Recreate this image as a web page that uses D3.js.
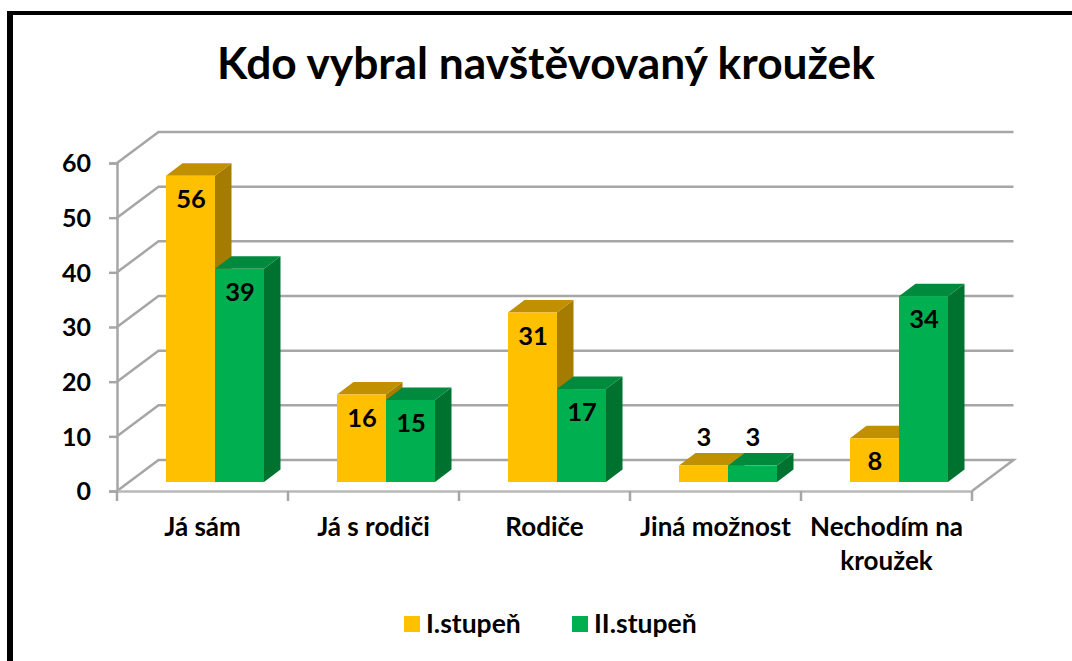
<!DOCTYPE html>
<html>
<head>
<meta charset="utf-8">
<script src="https://cdn.jsdelivr.net/npm/d3@7"></script>
<style>
  html, body { margin: 0; padding: 0; background: #fff; overflow: hidden; }
  text { font-family: Lato, "Open Sans", sans-serif; font-weight: 700; fill: #000; }
</style>
</head>
<body>
<div id="chart"></div>
<script>
const categories = ['Já sám', 'Já s rodiči', 'Rodiče', 'Jiná možnost', 'Nechodím na\nkroužek'];
const seriesNames = ['I.stupeň', 'II.stupeň'];
const stupen1 = [56, 16, 31, 3, 8];
const stupen2 = [39, 15, 17, 3, 34];
const yTicks = [0, 10, 20, 30, 40, 50, 60];

const width = 1072;
const height = 661;
const colors = [
  { front: '#ffc000', top: '#c09000', side: '#a67c00' },
  { front: '#00b050', top: '#008a3e', side: '#00722f' },
];
const gridColor = '#a6a6a6';

// offsets of the fake 3d
const wall = { dx: 41.5, dy: -31 };
const depth = { dx: 16.5, dy: -12.5 };
const baseLift = 9;

const xScale = d3.scaleBand().domain(categories).range([117, 972]);
const yScale = d3.scaleLinear().domain([0, 60]).range([491, 163]);
const barWidth = 49;
const barOffset = 49;

const svg = d3.select('#chart').append('svg')
  .attr('width', width)
  .attr('height', height)
  .style('display', 'block');

// frame, runs off the right and bottom of the picture
svg.append('rect')
  .attr('x', 7).attr('y', 11)
  .attr('width', 1065).attr('height', 4)
  .attr('fill', '#000');
svg.append('rect')
  .attr('x', 7).attr('y', 11)
  .attr('width', 6).attr('height', 650)
  .attr('fill', '#000');

svg.append('text')
  .attr('x', 546).attr('y', 79)
  .attr('text-anchor', 'middle')
  .style('font-size', '44.3px')
  .text('Kdo vybral navštěvovaný kroužek');

// walls
const x0 = xScale.range()[0];
const x1 = xScale.range()[1];
const grid = svg.append('g')
  .attr('fill', 'none')
  .attr('stroke', gridColor)
  .attr('stroke-width', 2.5);

grid.selectAll('path')
  .data(yTicks)
  .enter()
  .append('path')
  .attr('d', (d) => {
    const y = yScale(d);
    return d === 0
      ? `M${x1},${y}L${x1 + wall.dx},${y + wall.dy}L${x0 + wall.dx},${y + wall.dy}L${x0},${y}`
      : `M${x0},${y}L${x0 + wall.dx},${y + wall.dy}L${x1 + wall.dx},${y + wall.dy}`;
  });

// axes
const yAxis = d3.axisLeft(yScale).tickValues(yTicks).tickSize(8).tickPadding(8);
const gy = svg.append('g').attr('transform', `translate(${x0},0)`).call(yAxis);
gy.selectAll('.domain, line').attr('stroke', gridColor).attr('stroke-width', 2.5);
gy.selectAll('text').style('font-size', '25px').attr('dy', '0.35em').attr('x', -26);

const xAxis = d3.axisBottom(xScale).tickSize(0).tickPadding(26);
const gx = svg.append('g').attr('transform', `translate(0,${yScale(0)})`).call(xAxis);
gx.select('.domain').attr('stroke', '#b8b8b8').attr('stroke-width', 2.5);
gx.selectAll('.tick text')
  .style('font-size', '26px')
  .each(function (d) {
    const label = d3.select(this);
    const lines = d.split('\n');
    label.text(null);
    lines.forEach((l, i) => {
      label.append('tspan')
        .attr('x', 0)
        .attr('y', 27 + i * 34)
        .attr('dy', '0.71em')
        .text(l);
    });
  });
// tick marks sit between the categories
gx.selectAll('.edge')
  .data(d3.range(categories.length + 1))
  .enter()
  .append('line')
  .attr('class', 'edge')
  .attr('x1', i => x0 + i * xScale.step())
  .attr('x2', i => x0 + i * xScale.step())
  .attr('y1', 0)
  .attr('y2', 10)
  .attr('stroke', gridColor)
  .attr('stroke-width', 2.5);

// bars
const series = [stupen1, stupen2];
const yBar = v => yScale(v) - baseLift;

series.forEach((values, s) => {
  const g = svg.append('g').attr('class', `series${s}`);
  const bar = g.selectAll('g')
    .data(categories.map((c, i) => ({ c, v: values[i] })))
    .enter()
    .append('g');
  const left = d => xScale(d.c) + barOffset + s * barWidth;

  bar.append('path')
    .attr('fill', colors[s].side)
    .attr('d', (d) => {
      const x = left(d) + barWidth;
      const t = yBar(d.v);
      const b = yBar(0);
      return `M${x},${t}L${x + depth.dx},${t + depth.dy}L${x + depth.dx},${b + depth.dy}L${x},${b}Z`;
    });
  bar.append('path')
    .attr('fill', colors[s].top)
    .attr('d', (d) => {
      const x = left(d);
      const t = yBar(d.v);
      return `M${x},${t}L${x + depth.dx},${t + depth.dy}L${x + barWidth + depth.dx},${t + depth.dy}L${x + barWidth},${t}Z`;
    });
  bar.append('rect')
    .attr('fill', colors[s].front)
    .attr('x', left)
    .attr('y', d => yBar(d.v))
    .attr('width', barWidth)
    .attr('height', d => yBar(0) - yBar(d.v));
});

// value labels go on top so the next bar does not cover them
series.forEach((values, s) => {
  svg.append('g').selectAll('text')
    .data(categories.map((c, i) => ({ c, v: values[i] })))
    .enter()
    .append('text')
    .attr('text-anchor', 'middle')
    .attr('x', d => xScale(d.c) + barOffset + s * barWidth + barWidth / 2 + 0.5)
    .attr('y', d => (d.v < 5 ? yBar(d.v) - 20 : yBar(d.v) + 32))
    .style('font-size', '25.5px')
    .text(d => d.v);
});

// legend
const legend = svg.append('g');
const legendX = [404, 572];
seriesNames.forEach((name, i) => {
  legend.append('rect')
    .attr('x', legendX[i]).attr('y', 616)
    .attr('width', 16).attr('height', 16)
    .attr('fill', colors[i].front);
  legend.append('text')
    .attr('x', legendX[i] + 22).attr('y', 633)
    .style('font-size', '26.5px')
    .text(name);
});
</script>
</body>
</html>
